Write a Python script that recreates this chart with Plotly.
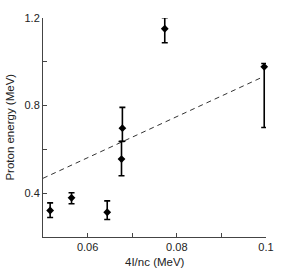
import plotly.graph_objects as go

# data
x_vals = [0.0516, 0.0564, 0.0644, 0.0676, 0.0678, 0.0773, 0.0996]
y_vals = [0.321, 0.379, 0.313, 0.556, 0.697, 1.151, 0.977]
err_plus = [0.035, 0.023, 0.052, 0.080, 0.095, 0.050, 0.015]
err_minus = [0.032, 0.027, 0.033, 0.076, 0.060, 0.064, 0.277]

fit_x = [0.0500, 0.0992]
fit_y = [0.468, 0.930]

y_tickvals = [0.4, 0.6, 0.8, 1.0, 1.2]
y_ticktext = ["0.4", "", "0.8", "", "1.2"]
x_tickvals = [0.06, 0.07, 0.08, 0.09, 0.10]
x_ticktext = ["0.06", "", "0.08", "", "0.1"]

fig = go.Figure()
fig.add_trace(go.Scatter(
    x=fit_x, y=fit_y, mode="lines",
    line=dict(color="#333333", width=1, dash="5px,4px"),
    showlegend=False, hoverinfo="skip"))
fig.add_trace(go.Scatter(
    x=x_vals, y=y_vals, mode="markers",
    marker=dict(symbol="diamond", size=6, color="black"),
    error_y=dict(type="data", symmetric=False, array=err_plus, arrayminus=err_minus,
                 color="black", thickness=1.6, width=3),
    showlegend=False, cliponaxis=False))

axis_font = dict(family="Liberation Sans, Arial, sans-serif", size=11, color="#222222")
fig.update_layout(
    width=286, height=273,
    margin=dict(l=43, r=17, t=13, b=36),
    paper_bgcolor="white", plot_bgcolor="white",
    font=axis_font,
    xaxis=dict(range=[0.05, 0.1], tickvals=x_tickvals, ticktext=x_ticktext,
               ticks="inside", ticklen=4, tickcolor="#444444", showgrid=False,
               zeroline=False, showline=True, linecolor="#444444", linewidth=1),
    yaxis=dict(range=[0.2, 1.2], tickvals=y_tickvals, ticktext=y_ticktext,
               ticks="inside", ticklen=4, tickcolor="#444444", showgrid=False,
               zeroline=False, showline=True, linecolor="#444444", linewidth=1),
    annotations=[
        dict(text="4I/nc (MeV)", xref="paper", yref="paper", x=0.5, y=-0.112,
             showarrow=False, xanchor="center", yanchor="middle",
             font=dict(size=11.5, color="#222222")),
        dict(text="Proton energy (MeV)", xref="paper", yref="paper", x=-0.152, y=0.5,
             showarrow=False, xanchor="center", yanchor="middle", textangle=-90,
             font=dict(size=11.5, color="#222222")),
    ],
)
fig.write_html("out.html", config={"displayModeBar": False},
               post_script="document.body.style.margin='0';document.body.style.padding='0';")
